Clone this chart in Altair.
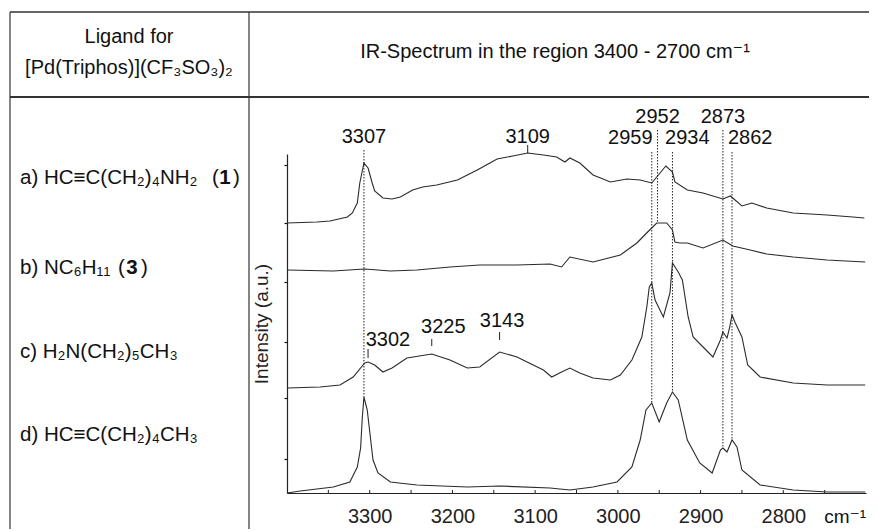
import altair as alt
import pandas as pd

FONT = "Liberation Sans, Arial, Helvetica, DejaVu Sans, sans-serif"
INK = "#222222"

# ---------------- data (wavenumber in cm-1, intensity in a.u.) ----------------
wn_a = [3400, 3364, 3348, 3327, 3321, 3315, 3312, 3308, 3307, 3302, 3297, 3294, 3284, 3273, 3263, 3248,
        3236, 3219, 3194, 3170, 3146, 3127, 3109, 3090, 3074, 3064, 3058, 3046, 3030, 3009, 2989, 2973,
        2959, 2953, 2942, 2934, 2931, 2916, 2897, 2873, 2864, 2850, 2838, 2820, 2788, 2747, 2716, 2702]
int_a = [270, 271, 272, 276, 280, 290, 310, 326, 330, 325, 310, 302, 295, 294, 296, 303,
         306, 308, 313, 323, 334, 337, 340, 338, 336, 331, 335, 330, 318, 311, 314, 313,
         310, 316, 327, 321, 311, 303, 300, 294, 297, 287, 290, 285, 280, 278, 276, 275]

wn_b = [3400, 3344, 3306, 3275, 3243, 3203, 3167, 3122, 3082, 3068, 3058, 3030, 2997, 2977, 2964,
        2953, 2941, 2934, 2931, 2925, 2916, 2897, 2873, 2861, 2840, 2820, 2788, 2747, 2701]
int_b = [223, 222, 224, 222, 223, 226, 228, 228, 229, 226, 236, 231, 238, 250, 261,
         270, 270, 263, 251, 250, 250, 245, 253, 247, 243, 239, 236, 233, 231]

wn_c = [3400, 3360, 3336, 3320, 3306, 3302, 3294, 3284, 3273, 3255, 3225, 3203, 3182, 3167, 3143,
        3122, 3090, 3080, 3068, 3058, 3046, 3030, 3009, 2997, 2983, 2971, 2965, 2962, 2959, 2955,
        2945, 2937, 2934, 2927, 2922, 2915, 2909, 2897, 2885, 2876, 2873, 2868, 2865, 2862, 2858,
        2850, 2843, 2828, 2788, 2747, 2701]
int_c = [105, 106, 108, 116, 130, 131, 128, 121, 125, 135, 139, 133, 125, 126, 141,
         136, 123, 116, 121, 125, 120, 115, 113, 118, 133, 156, 186, 206, 210, 193,
         176, 200, 230, 221, 213, 176, 156, 146, 136, 153, 161, 155, 165, 178, 170,
         156, 128, 116, 110, 108, 108]

wn_d = [3400, 3384, 3344, 3324, 3315, 3311, 3309, 3307, 3303, 3296, 3290, 3275, 3243, 3182, 3143,
        3082, 3058, 3030, 3001, 2983, 2973, 2966, 2959, 2950, 2941, 2934, 2927, 2916, 2901, 2886,
        2876, 2873, 2868, 2862, 2856, 2850, 2828, 2788, 2747, 2701]
int_d = [0, 2, 6, 11, 26, 45, 75, 96, 83, 33, 20, 11, 8, 6, 7,
         5, 3, 6, 11, 26, 53, 83, 90, 71, 90, 101, 93, 53, 30, 20,
         43, 45, 41, 53, 46, 23, 8, 3, 1, 1]

# dotted marker lines: wavenumber, upper and lower end (a.u.)
mark_wn = [3307, 2959, 2952, 2934, 2873, 2862]
mark_top = [343, 341, 363, 341, 363, 341]
mark_bottom = [96, 90, 270, 101, 45, 53]

# peak labels
label_text = ["3307", "3109", "2952", "2873", "2959", "2934", "2862", "3302", "3225", "3143"]
label_wn = [3307, 3109, 2952, 2873, 2985, 2916, 2840, 3278, 3211, 3140]
label_h = [356, 356, 376, 376, 355, 355, 355, 153, 166, 172]

# short solid label ticks
tick_wn = [3109, 3302, 3225, 3143]
tick_lo = [340, 135, 147, 153]
tick_hi = [348, 144, 154, 161]

x_label_values = [3300, 3200, 3100, 3000, 2900, 2800]
x_minor_ticks = [3350, 3300, 3250, 3200, 3150, 3100, 3050, 3000, 2950, 2900, 2850, 2800, 2750]
y_tick_values = [34, 63, 95, 123, 151, 181, 211, 240, 270, 298, 328]

# ---------------- frames ----------------
spec = pd.concat([
    pd.DataFrame({"wn": wn_a, "I": int_a, "s": "a"}),
    pd.DataFrame({"wn": wn_b, "I": int_b, "s": "b"}),
    pd.DataFrame({"wn": wn_c, "I": int_c, "s": "c"}),
    pd.DataFrame({"wn": wn_d, "I": int_d, "s": "d"}),
], ignore_index=True)
marks = pd.DataFrame({"wn": mark_wn, "top": mark_top, "bottom": mark_bottom})
labels = pd.DataFrame({"t": label_text, "wn": label_wn, "h": label_h})
ticks = pd.DataFrame({"wn": tick_wn, "lo": tick_lo, "hi": tick_hi})
minor = pd.DataFrame({"wn": x_minor_ticks})
one = pd.DataFrame({"k": [0]})

xs = alt.Scale(domain=[2700, 3400], reverse=True, nice=False, zero=False)
ys = alt.Scale(domain=[0, 339], nice=False, zero=False)

x_axis = alt.Axis(values=x_label_values, format="d", ticks=False, grid=False, title=None,
                  labelFontSize=20, labelFont=FONT, labelColor=INK, labelPadding=13,
                  domainColor=INK, domainWidth=1)
y_axis = alt.Axis(values=y_tick_values, labels=False, grid=False, ticks=True, tickSize=3,
                  tickWidth=1.2, tickColor="#111111", domainColor=INK, domainWidth=1.2,
                  title="Intensity (a.u.)", titleFontSize=19, titleFont=FONT,
                  titleFontWeight="normal", titleColor=INK, titlePadding=12)

lines = alt.Chart(spec).mark_line(color="#2a2a2a", strokeWidth=1.1).encode(
    x=alt.X("wn:Q", scale=xs, axis=x_axis),
    y=alt.Y("I:Q", scale=ys, axis=y_axis),
    detail="s:N",
)

dotted = alt.Chart(marks).mark_rule(color=INK, strokeWidth=1, strokeDash=[1.5, 1.5]).encode(
    x=alt.X("wn:Q", scale=xs), y=alt.Y("top:Q", scale=ys), y2="bottom:Q")

peak_ticks = alt.Chart(ticks).mark_rule(color=INK, strokeWidth=1).encode(
    x=alt.X("wn:Q", scale=xs), y=alt.Y("lo:Q", scale=ys), y2="hi:Q")

minor_ticks = alt.Chart(minor).mark_rule(color=INK, strokeWidth=1).encode(
    x=alt.X("wn:Q", scale=xs), y=alt.datum(0, scale=ys), y2=alt.datum(3))

peak_labels = alt.Chart(labels).mark_text(font=FONT, fontSize=20, color="#111111",
                                          align="center", baseline="middle").encode(
    x=alt.X("wn:Q", scale=xs), y=alt.Y("h:Q", scale=ys), text="t:N")


def hrule(x1, x2, y, w=1.3):
    return alt.Chart(one).mark_rule(color="#333333", strokeWidth=w).encode(
        x=alt.value(x1), x2=alt.value(x2), y=alt.value(y))


def vrule(x, y1, y2, w=1.3):
    return alt.Chart(one).mark_rule(color="#333333", strokeWidth=w).encode(
        x=alt.value(x), y=alt.value(y1), y2=alt.value(y2))


def txt(s, x, y, align="left", weight="normal", size=20.5):
    return alt.Chart(one).mark_text(text=s, font=FONT, fontSize=size, fontWeight=weight,
                                    color="#111111", align=align, baseline="middle").encode(
        x=alt.value(x), y=alt.value(y))


# table geometry (pixels relative to the plot origin)
table = [
    hrule(-277, 590, -142, 1.3),
    hrule(-277, 590, -57, 1.8),
    vrule(-277, -142, 400, 1.2),
    vrule(-38, -142, 400, 1.2),
    txt("Ligand for", -158, -117, "center", size=20),
    txt("[Pd(Triphos)](CF₃SO₃)₂", -158, -86, "center", size=20),
    txt("IR-Spectrum in the region 3400 - 2700 cm⁻¹", 268, -102, "center", size=20),
    txt("a) HC≡C(CH₂)₄NH₂", -267, 24),
    txt("(", -75, 24), txt("1", -62, 24, "center", "bold"), txt(")", -54, 24),
    txt("b) NC₆H₁₁", -267, 114),
    txt("(", -169, 114), txt("3", -155, 114, "center", "bold"), txt(")", -146, 114),
    txt("c) H₂N(CH₂)₅CH₃", -267, 198),
    txt("d) HC≡C(CH₂)₄CH₃", -267, 281),
    txt("cm⁻¹", 579, 363, "right", size=19),
]

chart = alt.layer(*table, lines, dotted, peak_ticks, minor_ticks, peak_labels).properties(
    width=579, height=339,
    padding={"left": 279, "top": 146, "right": 3, "bottom": 36},
    autosize=alt.AutoSizeParams(type="none"),
    background="white",
).configure_view(stroke=None)

chart.save("out.html", embed_options={"renderer": "svg", "actions": False})
